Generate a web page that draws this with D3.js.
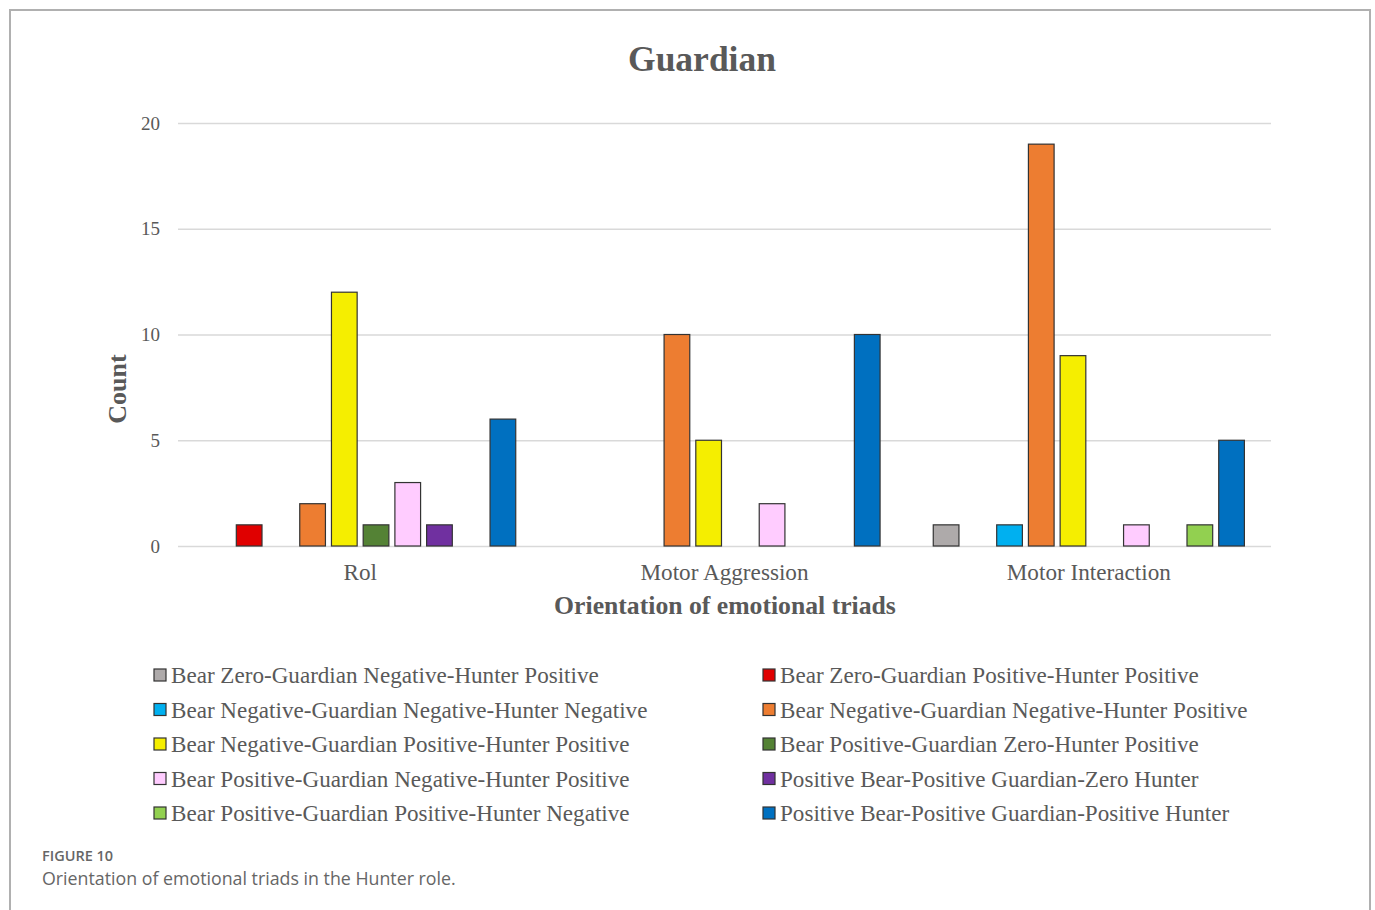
<!DOCTYPE html>
<html>
<head>
<meta charset="utf-8">
<script src="https://cdn.jsdelivr.net/npm/d3@7"></script>
<style>
  html, body { margin: 0; padding: 0; background: #fff; }
  svg { display: block; }
</style>
</head>
<body>
<svg id="chart" width="1375" height="910"></svg>
<script>
// Categories along the x axis
const categories = ["Rol", "Motor Aggression", "Motor Interaction"];

// Series (emotional triads) in drawing / legend order
const seriesNames = [
  "Bear Zero-Guardian Negative-Hunter Positive",
  "Bear Zero-Guardian Positive-Hunter Positive",
  "Bear Negative-Guardian Negative-Hunter Negative",
  "Bear Negative-Guardian Negative-Hunter Positive",
  "Bear Negative-Guardian Positive-Hunter Positive",
  "Bear Positive-Guardian Zero-Hunter Positive",
  "Bear Positive-Guardian Negative-Hunter Positive",
  "Positive Bear-Positive Guardian-Zero Hunter",
  "Bear Positive-Guardian Positive-Hunter Negative",
  "Positive Bear-Positive Guardian-Positive Hunter"
];

const seriesColors = [
  "#aeaaaa", "#e00000", "#00b0f0", "#ed7d31", "#f5ee00",
  "#548235", "#ffccff", "#7030a0", "#92d050", "#0070c0"
];

// Counts per series, one value per category (Rol, Motor Aggression, Motor Interaction)
const valBearZeroGNegHPos   = [0, 0, 1];
const valBearZeroGPosHPos   = [1, 0, 0];
const valBearNegGNegHNeg    = [0, 0, 1];
const valBearNegGNegHPos    = [2, 10, 19];
const valBearNegGPosHPos    = [12, 5, 9];
const valBearPosGZeroHPos   = [1, 0, 0];
const valBearPosGNegHPos    = [3, 2, 1];
const valPosBearPosGZeroH   = [1, 0, 0];
const valBearPosGPosHNeg    = [0, 0, 1];
const valPosBearPosGPosH    = [6, 10, 5];

const seriesValues = [
  valBearZeroGNegHPos, valBearZeroGPosHPos, valBearNegGNegHNeg, valBearNegGNegHPos,
  valBearNegGPosHPos, valBearPosGZeroHPos, valBearPosGNegHPos, valPosBearPosGZeroH,
  valBearPosGPosHNeg, valPosBearPosGPosH
];

const yTicks = [0, 5, 10, 15, 20];

const chartTitle = "Guardian";
const yTitle = "Count";
const xTitle = "Orientation of emotional triads";
const figLabel = "FIGURE 10";
const figCaption = "Orientation of emotional triads in the Hunter role.";

const svg = d3.select("#chart");
const serif = "'Liberation Serif', 'Times New Roman', serif";
const textGrey = "#595959";

// Figure frame
svg.append("path")
  .attr("d", "M10,930 V10 H1370 V930")
  .attr("fill", "none")
  .attr("stroke", "#b0b0b0")
  .attr("stroke-width", 2);

// Plot area
const plot = { left: 178, right: 1271, top: 123, bottom: 546 };

const x0 = d3.scaleBand()
  .domain(categories)
  .range([plot.left, plot.right])
  .paddingInner(0.146)
  .paddingOuter(0.073);

const x1 = d3.scaleBand()
  .domain(d3.range(seriesNames.length))
  .range([0, x0.bandwidth()])
  .paddingInner(0.19)
  .paddingOuter(0);

const y = d3.scaleLinear()
  .domain([0, 20])
  .range([plot.bottom, plot.top]);

// Gridlines and y tick labels
const yAxis = d3.axisLeft(y)
  .tickValues(yTicks)
  .tickSize(-(plot.right - plot.left))
  .tickPadding(18)
  .tickFormat(d3.format("d"));

const yg = svg.append("g")
  .attr("transform", `translate(${plot.left},0)`)
  .call(yAxis);
yg.select(".domain").remove();
yg.selectAll(".tick line").attr("stroke", "#d9d9d9").attr("stroke-width", 1.3);
yg.selectAll(".tick text")
  .attr("fill", textGrey)
  .attr("font-family", serif)
  .attr("font-size", 19);

// Bars (zero counts are not drawn)
const groups = svg.append("g").selectAll("g")
  .data(categories)
  .join("g")
  .attr("transform", d => `translate(${x0(d)},0)`);

groups.selectAll("rect")
  .data((c, ci) => seriesValues.map((vals, si) => ({ si, v: vals[ci] })).filter(d => d.v > 0))
  .join("rect")
  .attr("x", d => x1(d.si))
  .attr("width", x1.bandwidth())
  .attr("y", d => y(d.v))
  .attr("height", d => y(0) - y(d.v))
  .attr("fill", d => seriesColors[d.si])
  .attr("stroke", "#333")
  .attr("stroke-width", 1.2);

// Category labels
const xAxis = d3.axisBottom(x0).tickSize(0).tickPadding(18);
const xg = svg.append("g")
  .attr("transform", `translate(0,${plot.bottom})`)
  .call(xAxis);
xg.select(".domain").remove();
xg.selectAll(".tick text")
  .attr("fill", textGrey)
  .attr("font-family", serif)
  .attr("font-size", 23.2);

// Title
svg.append("text")
  .attr("x", 702).attr("y", 71)
  .attr("text-anchor", "middle")
  .attr("font-family", serif)
  .attr("font-weight", "bold")
  .attr("font-size", 35.5)
  .attr("fill", textGrey)
  .text(chartTitle);

// Axis titles
svg.append("text")
  .attr("transform", "translate(126,389) rotate(-90)")
  .attr("text-anchor", "middle")
  .attr("font-family", serif)
  .attr("font-weight", "bold")
  .attr("font-size", 26)
  .attr("fill", textGrey)
  .text(yTitle);

svg.append("text")
  .attr("x", 725).attr("y", 614)
  .attr("text-anchor", "middle")
  .attr("font-family", serif)
  .attr("font-weight", "bold")
  .attr("font-size", 25.7)
  .attr("fill", textGrey)
  .text(xTitle);

// Legend: two columns, filled row by row
const legend = svg.append("g");
const legItems = legend.selectAll("g")
  .data(seriesNames.map((name, i) => ({ name, i })))
  .join("g")
  .attr("transform", d => {
    const col = d.i % 2, row = Math.floor(d.i / 2);
    return `translate(${col ? 763 : 154},${675 + row * 34.5})`;
  });

legItems.append("rect")
  .attr("x", 0).attr("y", -6)
  .attr("width", 12).attr("height", 12)
  .attr("fill", d => seriesColors[d.i])
  .attr("stroke", "#333")
  .attr("stroke-width", 1.2);

legItems.append("text")
  .attr("x", 17).attr("y", 8)
  .attr("font-family", serif)
  .attr("font-size", 23.1)
  .attr("fill", textGrey)
  .text(d => d.name);

// Figure caption
svg.append("text")
  .attr("x", 42).attr("y", 861)
  .attr("font-family", "'Open Sans', 'Noto Sans', sans-serif")
  .attr("font-weight", 600)
  .attr("font-size", 14.5)
  .attr("fill", "#666")
  .text(figLabel);

svg.append("text")
  .attr("x", 42).attr("y", 885)
  .attr("font-family", "'Open Sans', 'Noto Sans', sans-serif")
  .attr("font-weight", 400)
  .attr("font-size", 17.8)
  .attr("fill", "#666")
  .text(figCaption);
</script>
</body>
</html>
